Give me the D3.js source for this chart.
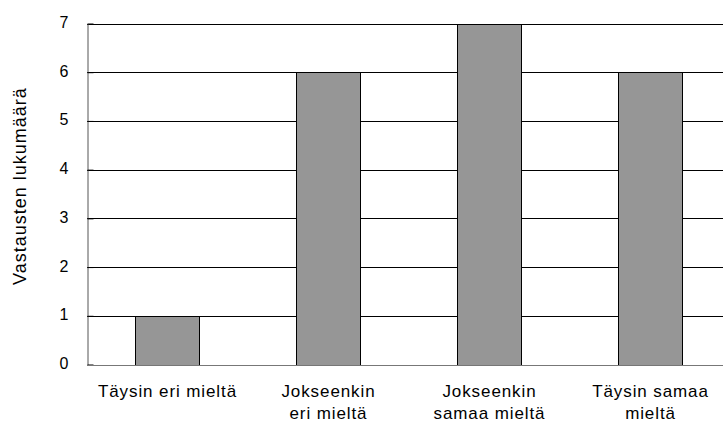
<!DOCTYPE html>
<html><head><meta charset="utf-8">
<script src="https://cdn.jsdelivr.net/npm/d3@7"></script>
<style>body{margin:0;background:#fff}svg{display:block}text{font-family:"Liberation Sans",Arial,sans-serif;fill:#000}</style>
</head><body><svg id="c" width="723" height="429"></svg>
<script>
const categories = [["Täysin eri mieltä"],["Jokseenkin","eri mieltä"],["Jokseenkin","samaa mieltä"],["Täysin samaa","mieltä"]];
const values = [1, 6, 7, 6];
const yTicks = [0,1,2,3,4,5,6,7];
const yTitle = "Vastausten lukumäärä";

const svg = d3.select("#c");
const pLeft = 87, pTop = 23.5, pBottom = 364.5, pRight = 731;
const x = d3.scaleBand().domain(d3.range(categories.length)).range([pLeft, pRight]).paddingInner(0.6).paddingOuter(0.3);
const y = d3.scaleLinear().domain([0, 7]).range([pBottom, pTop]);

// gridlines
svg.append("g").selectAll("line").data(yTicks.filter(d => d > 0)).join("line")
  .attr("x1", pLeft).attr("x2", pRight)
  .attr("y1", d => Math.round(y(d)) + 0.5).attr("y2", d => Math.round(y(d)) + 0.5)
  .attr("stroke", "#000").attr("stroke-width", 1);

// bars
svg.append("g").selectAll("rect").data(values).join("rect")
  .attr("x", (d, i) => Math.round(x(i)) + 0.5)
  .attr("y", d => Math.round(y(d)) + 0.5)
  .attr("width", Math.round(x.bandwidth()))
  .attr("height", d => Math.round(y(0)) - Math.round(y(d)))
  .attr("fill", "#969696").attr("stroke", "#000").attr("stroke-width", 1);

// axes
const ya = svg.append("g").attr("transform", `translate(${pLeft + 0.5},0)`)
  .call(d3.axisLeft(y).tickValues(yTicks).tickSizeInner(-6).tickSizeOuter(0).tickPadding(19).tickFormat(d3.format("d")));
ya.select(".domain").attr("stroke", "#555");
ya.selectAll(".tick line").attr("stroke", "#000");
ya.selectAll("text").attr("font-size", 16).attr("dy", "0.25em").style("font-family", '"Liberation Sans",Arial,sans-serif');

svg.append("line").attr("x1", pLeft).attr("x2", pRight)
  .attr("y1", Math.round(y(0)) + 0.5).attr("y2", Math.round(y(0)) + 0.5)
  .attr("stroke", "#777").attr("stroke-width", 1);

// x labels
const xl = svg.append("g").selectAll("text").data(categories).join("text")
  .attr("text-anchor", "middle").attr("font-size", 17).attr("letter-spacing", "0.9px")
  .attr("x", (d, i) => x(i) + x.bandwidth() / 2).attr("y", 397);
xl.selectAll("tspan").data(d => d).join("tspan")
  .attr("x", function() { return this.parentNode.getAttribute("x"); })
  .attr("dy", (d, i) => i === 0 ? 0 : 22).text(d => d);

svg.append("text").attr("transform", `translate(26,186) rotate(-90)`)
  .attr("text-anchor", "middle").attr("font-size", 18).attr("letter-spacing", "1px").text(yTitle);
</script></body></html>
